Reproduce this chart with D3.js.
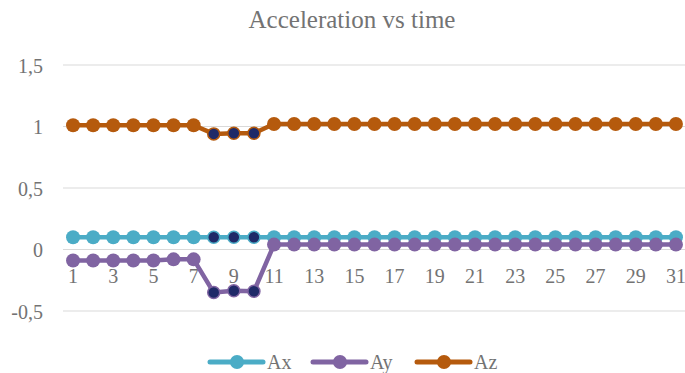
<!DOCTYPE html>
<html>
<head>
<meta charset="utf-8">
<script src="https://cdn.jsdelivr.net/npm/d3@7"></script>
<style>
  html, body { margin: 0; padding: 0; background: #fff; }
  svg { display: block; }
</style>
</head>
<body>
<svg id="chart" width="685" height="373"></svg>
<script>
// Sample index (time) and the three acceleration components
const samples = d3.range(1, 32);
const ax = [0.10,0.10,0.10,0.10,0.10,0.10,0.10,0.10,0.10,0.10,0.10,0.10,0.10,0.10,0.10,0.10,0.10,0.10,0.10,0.10,0.10,0.10,0.10,0.10,0.10,0.10,0.10,0.10,0.10,0.10,0.10];
const ay = [-0.09,-0.09,-0.09,-0.09,-0.09,-0.08,-0.08,-0.35,-0.335,-0.34,0.04,0.04,0.04,0.04,0.04,0.04,0.04,0.04,0.04,0.04,0.04,0.04,0.04,0.04,0.04,0.04,0.04,0.04,0.04,0.04,0.04];
const az = [1.01,1.01,1.01,1.01,1.01,1.01,1.01,0.94,0.945,0.945,1.02,1.02,1.02,1.02,1.02,1.02,1.02,1.02,1.02,1.02,1.02,1.02,1.02,1.02,1.02,1.02,1.02,1.02,1.02,1.02,1.02];
const highlighted = [8, 9, 10];
const yTicks = [-0.5, 0, 0.5, 1, 1.5];
const xTickLabels = samples.filter(d => d % 2 === 1);
const seriesNames = ["Ax", "Ay", "Az"];
const seriesColors = ["#4BACC6", "#8064A2", "#B55A0D"];
const highlightFill = "#1F2A68";

const FONT = "'Liberation Serif', 'Times New Roman', serif";
const TEXT_COLOR = "#737373";

const series = seriesNames.map((name, i) => ({
  name, color: seriesColors[i],
  values: [ax, ay, az][i].map((v, j) => ({ t: samples[j], v }))
}));

const svg = d3.select("#chart");
const plot = { left: 63, right: 686, top: 65, bottom: 311 };

const x = d3.scaleBand().domain(samples).range([plot.left, plot.right]);
const y = d3.scaleLinear().domain([-0.5, 1.5]).range([plot.bottom, plot.top]);
const fmt = v => String(v).replace(".", ",");

// Title
svg.append("text")
  .attr("x", 352).attr("y", 28)
  .attr("text-anchor", "middle")
  .attr("font-family", FONT).attr("font-size", 25).attr("fill", TEXT_COLOR)
  .text("Acceleration vs time");

// Horizontal gridlines
svg.append("g").selectAll("line").data(yTicks).join("line")
  .attr("x1", plot.left).attr("x2", plot.right)
  .attr("y1", d => y(d)).attr("y2", d => y(d))
  .attr("stroke", "#D9D9D9").attr("stroke-width", 1);

// Y axis labels
const yAxis = d3.axisLeft(y).tickValues(yTicks).tickFormat(fmt).tickSize(0).tickPadding(20);
svg.append("g").attr("transform", `translate(${plot.left},0)`).call(yAxis)
  .attr("font-family", FONT).attr("font-size", 20)
  .call(g => g.select(".domain").remove())
  .call(g => g.selectAll("text").attr("fill", TEXT_COLOR).attr("dy", "0.37em"));

// X axis labels sit under the zero line
const xAxis = d3.axisBottom(x).tickValues(xTickLabels).tickSize(0).tickPadding(19);
svg.append("g").attr("transform", `translate(0,${y(0)})`).call(xAxis)
  .attr("font-family", FONT).attr("font-size", 20)
  .call(g => g.select(".domain").remove())
  .call(g => g.selectAll("text").attr("fill", TEXT_COLOR));

const cx = d => x(d.t) + x.bandwidth() / 2;
const line = d3.line().x(cx).y(d => y(d.v));

// Lines first, then markers
series.forEach(s => {
  svg.append("path").datum(s.values)
    .attr("d", line).attr("fill", "none")
    .attr("stroke", s.color).attr("stroke-width", 4.5)
    .attr("stroke-linejoin", "round").attr("stroke-linecap", "round");
});
series.forEach(s => {
  svg.append("g").selectAll("circle").data(s.values).join("circle")
    .attr("cx", cx).attr("cy", d => y(d.v))
    .attr("r", d => highlighted.includes(d.t) ? 6 : 7)
    .attr("fill", d => highlighted.includes(d.t) ? highlightFill : s.color)
    .attr("stroke", s.color)
    .attr("stroke-width", d => highlighted.includes(d.t) ? 1.5 : 0);
});

// Legend
const legendX = [210, 313, 417];
const legend = svg.append("g").selectAll("g").data(series).join("g")
  .attr("transform", (d, i) => `translate(${legendX[i]},362)`);
legend.append("line").attr("x1", 0).attr("x2", 53).attr("y1", 0).attr("y2", 0)
  .attr("stroke", d => d.color).attr("stroke-width", 5).attr("stroke-linecap", "round");
legend.append("circle").attr("cx", 27).attr("cy", 0).attr("r", 7).attr("fill", d => d.color);
legend.append("text").attr("x", 57).attr("y", 7)
  .attr("font-family", FONT).attr("font-size", 20).attr("fill", TEXT_COLOR)
  .text(d => d.name);
</script>
</body>
</html>
